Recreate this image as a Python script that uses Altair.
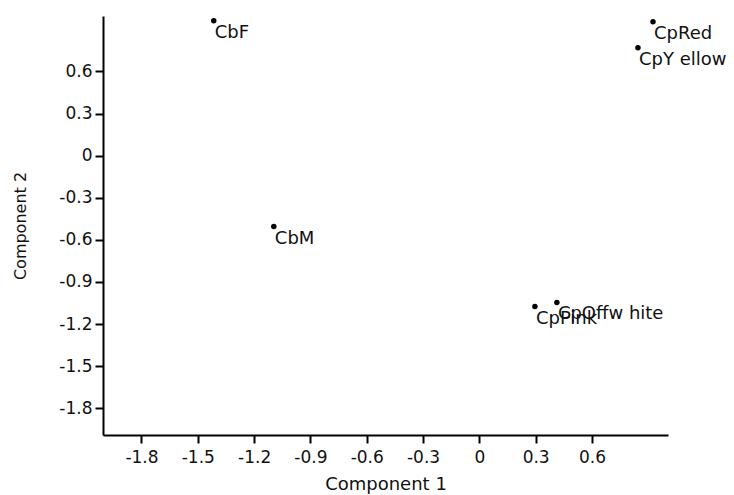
import altair as alt
import pandas as pd

names = ["CbF", "CbM", "CpRed", "CpY ellow", "CpPink", "CpOffw hite"]
comp1 = [-1.415, -1.095, 0.925, 0.845, 0.296, 0.413]
comp2 = [0.961, -0.505, 0.954, 0.769, -1.075, -1.046]
ticks = [-1.8, -1.5, -1.2, -0.9, -0.6, -0.3, 0, 0.3, 0.6]

df = pd.DataFrame({"name": names, "c1": comp1, "c2": comp2})

FONT = "DejaVu Sans"

x = alt.X("c1:Q", title="Component 1",
          scale=alt.Scale(domain=[-2.005, 1.005], nice=False, zero=False),
          axis=alt.Axis(values=ticks, grid=False, labelExpr="'' + datum.value",
                        domainWidth=2, domainColor="black", tickColor="black", tickWidth=2,
                        tickSize=8, labelFontSize=17, labelColor="#111", labelFont=FONT,
                        titleFont=FONT, titleFontSize=18, titleFontWeight="normal",
                        titleColor="#111", titlePadding=10, labelPadding=6, labelFlush=False))
y = alt.Y("c2:Q", title="Component 2",
          scale=alt.Scale(domain=[-1.99, 0.995], nice=False, zero=False),
          axis=alt.Axis(values=ticks, grid=False, labelExpr="'' + datum.value",
                        domainWidth=2, domainColor="black", tickColor="black", tickWidth=2,
                        tickSize=8, labelFontSize=17, labelColor="#111", labelFont=FONT,
                        titleFont=FONT, titleFontSize=16, titleFontWeight="normal",
                        titleColor="#111", titlePadding=30, labelPadding=3, labelFlush=False))

base = alt.Chart(df)
pts = base.mark_point(filled=True, color="black", size=30, opacity=1).encode(x=x, y=y)
txt = base.mark_text(align="left", baseline="middle", dx=1, dy=12, fontSize=18,
                     font=FONT, color="#111").encode(x=x, y=y, text="name:N")

chart = (pts + txt).properties(
    width=565, height=419,
    autosize=alt.AutoSizeParams(type="none"),
    padding={"left": 103, "top": 16, "right": 66, "bottom": 60},
).configure_view(stroke=None)

chart.save("out.html", embed_options={"renderer": "svg", "actions": False})
